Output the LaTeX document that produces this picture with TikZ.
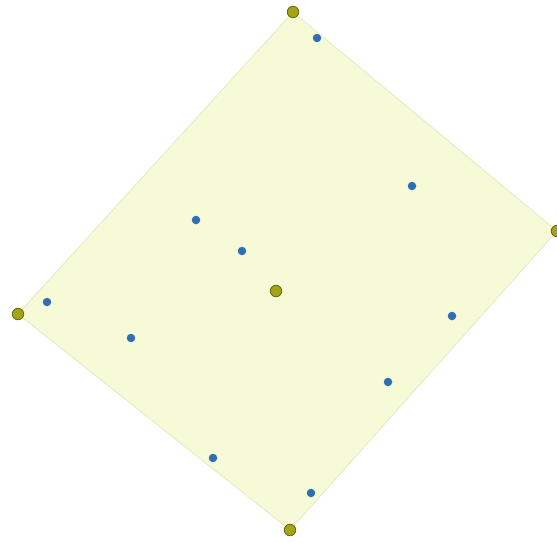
\documentclass[tikz,border=0pt]{standalone}
\usepackage{xcolor}
\usepackage{tikz}
\definecolor{rectfill}{HTML}{F7FAD7}
\definecolor{rectedge}{HTML}{DDEBC0}
\definecolor{hullolive}{HTML}{A3A516}
\definecolor{hulldark}{HTML}{6B6B10}
\definecolor{ptblue}{HTML}{2F6DB5}

\begin{document}
\begin{tikzpicture}[x=0.02cm,y=-0.02cm,
  corner/.style={circle,draw=hulldark,fill=hullolive,line width=0.5pt,
    inner sep=0pt,minimum size=0.23cm},
  pt/.style={circle,fill=ptblue,inner sep=0pt,minimum size=0.17cm}]

  \useasboundingbox (0,0) rectangle (557,542);

  \coordinate (top) at (293,12);
  \coordinate (right) at (557,231);
  \coordinate (bottom) at (290,530);
  \coordinate (left) at (18,314);

  \fill[rectfill] (top) -- (right) -- (bottom) -- (left) -- cycle;
  \draw[rectedge,line width=0.4pt] (top) -- (right) -- (bottom) -- (left) -- cycle;

  \node[pt] (p1) at (317,38) {};
  \node[pt] (p2) at (412,186) {};
  \node[pt] (p3) at (196,220) {};
  \node[pt] (p4) at (242,251) {};
  \node[pt] (p5) at (47,302) {};
  \node[pt] (p6) at (131,338) {};
  \node[pt] (p7) at (452,316) {};
  \node[pt] (p8) at (388,382) {};
  \node[pt] (p9) at (213,458) {};
  \node[pt] (p10) at (311,493) {};

  \node[corner] (ctop) at (top) {};
  \node[corner] (cright) at (right) {};
  \node[corner] (cbottom) at (bottom) {};
  \node[corner] (cleft) at (left) {};
  \node[corner] (center) at (276,291) {};
\end{tikzpicture}
\end{document}
